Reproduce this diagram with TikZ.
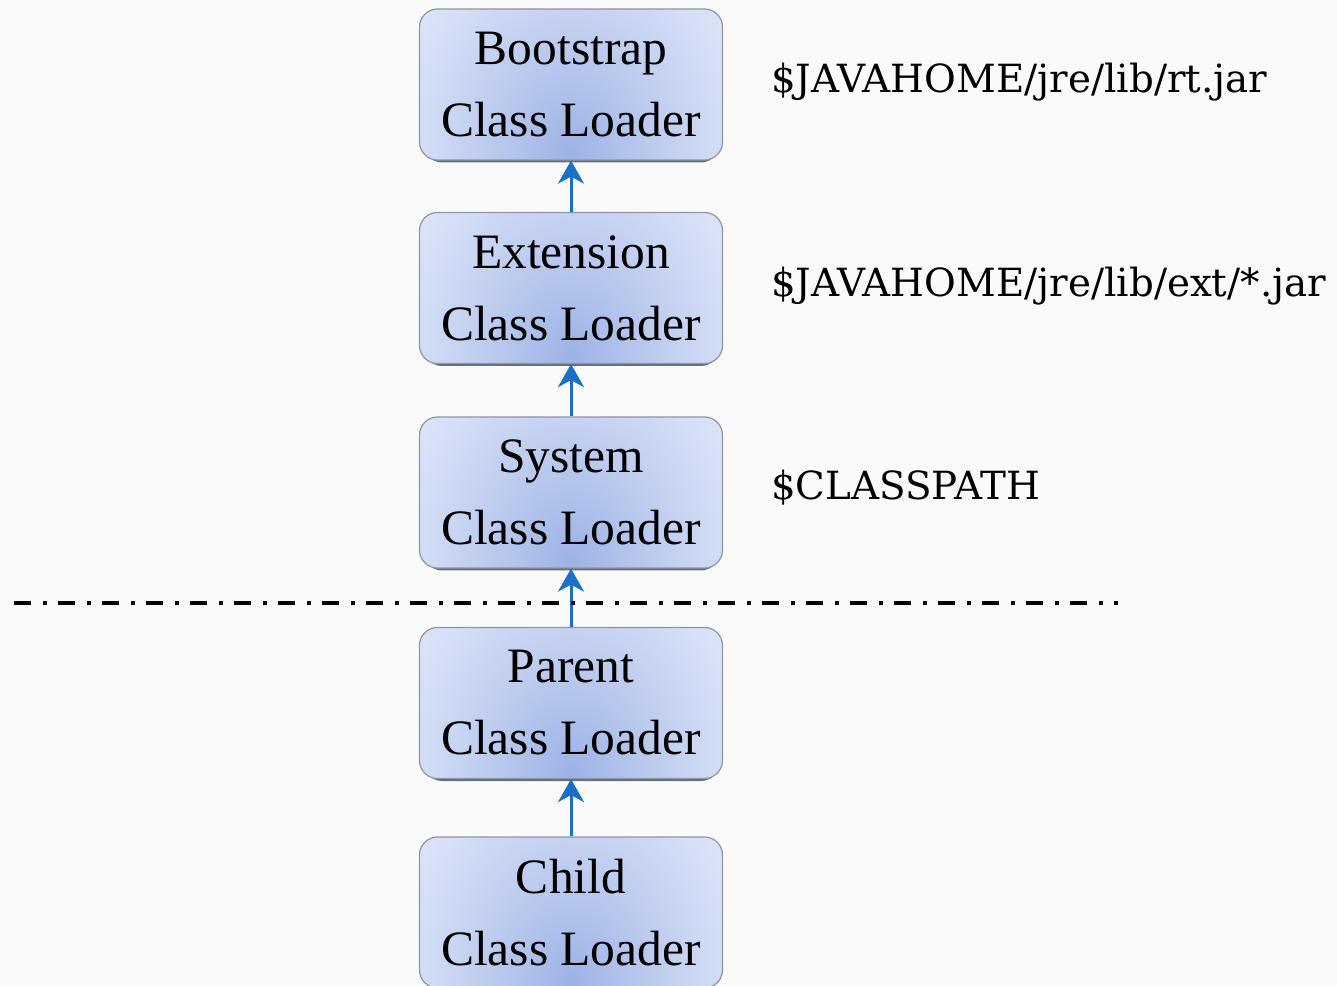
\documentclass[tikz,border=0pt]{standalone}
\usepackage{fontspec}
\setmainfont{Liberation Serif}
\newfontfamily\pathfont{DejaVu Serif}
\usetikzlibrary{arrows.meta}

\definecolor{paper}{HTML}{FAFAFA}
\definecolor{boxedge}{HTML}{8E96A6}
\definecolor{boxshadow}{HTML}{666E7C}
\definecolor{shadeA}{HTML}{9DB2E5}
\definecolor{shadeB}{HTML}{ADC0EA}
\definecolor{shadeC}{HTML}{BFCDEF}
\definecolor{shadeD}{HTML}{D3DDF5}
\definecolor{shadeE}{HTML}{E4EAF9}
\definecolor{shadeF}{HTML}{EEF2FC}
\definecolor{linkblue}{HTML}{1B6FC6}

% blue glow, darkest at its centre
\pgfdeclareradialshading{loaderglow}{\pgfpoint{0bp}{0bp}}{%
  color(0bp)=(shadeA); color(7bp)=(shadeB); color(15bp)=(shadeC);
  color(25bp)=(shadeD); color(35bp)=(shadeE); color(48bp)=(shadeF);
  color(100bp)=(shadeF)}

\tikzset{
  loader/.style={rounded corners=18pt, minimum width=303pt, minimum height=151pt,
    inner sep=0pt, draw=boxedge, line width=1.2pt, fill=shadeF,
    path picture={
      \shade[shading=loaderglow]
        ([xshift=-151.5pt, yshift=-194pt]path picture bounding box.south)
        rectangle ++(303pt,400pt);
    },
    align=center, font=\fontsize{49.5}{72}\selectfont},
  loadershadow/.style={rounded corners=18pt, fill=boxshadow},
  path label/.style={anchor=base west, inner sep=0pt,
    font=\pathfont\fontsize{38.8}{46}\selectfont},
  parentlink/.style={draw=linkblue, line width=3pt,
    -{Stealth[length=23pt, width=26pt, inset=7pt]}},
  boundary/.style={line width=4pt, dash pattern=on 17pt off 12pt on 3.5pt off 11.5pt}
}

\begin{document}
\begin{tikzpicture}[x=1pt, y=1pt]
  \fill[paper] (0,0) rectangle (1337,985);
  \useasboundingbox (0,0) rectangle (1337,985);

  % shadows under the boxes
  \foreach \cy in {900.5, 697, 492.5, 282, 72.5}
    \fill[loadershadow] (424,\cy-78) rectangle (719,\cy+73);

  \node[loader] (boot) at (571,900.5) {Bootstrap\\Class Loader};
  \node[loader] (ext)  at (571,697)   {Extension\\Class Loader};
  \node[loader] (sys)  at (571,492.5) {System\\Class Loader};
  \node[loader] (par)  at (571,282)   {Parent\\Class Loader};
  \node[loader] (chd)  at (571,72.5)  {Child\\Class Loader};

  \draw[parentlink] (ext.north) -- (boot.south);
  \draw[parentlink] (sys.north) -- (ext.south);
  \draw[parentlink] (par.north) -- (sys.south);
  \draw[parentlink] (chd.north) -- (par.south);

  \node[path label] (rt)  at (771,892) {\$JAVAHOME/jre/lib/rt.jar};
  \node[path label] (lx)  at (771,688) {\$JAVAHOME/jre/lib/ext/*.jar};
  \node[path label] (cp)  at (771,485) {\$CLASSPATH};

  \coordinate (lineL) at (14,382);
  \coordinate (lineR) at (1118,382);
  \draw[boundary] (lineL) -- (lineR);
\end{tikzpicture}
\end{document}
